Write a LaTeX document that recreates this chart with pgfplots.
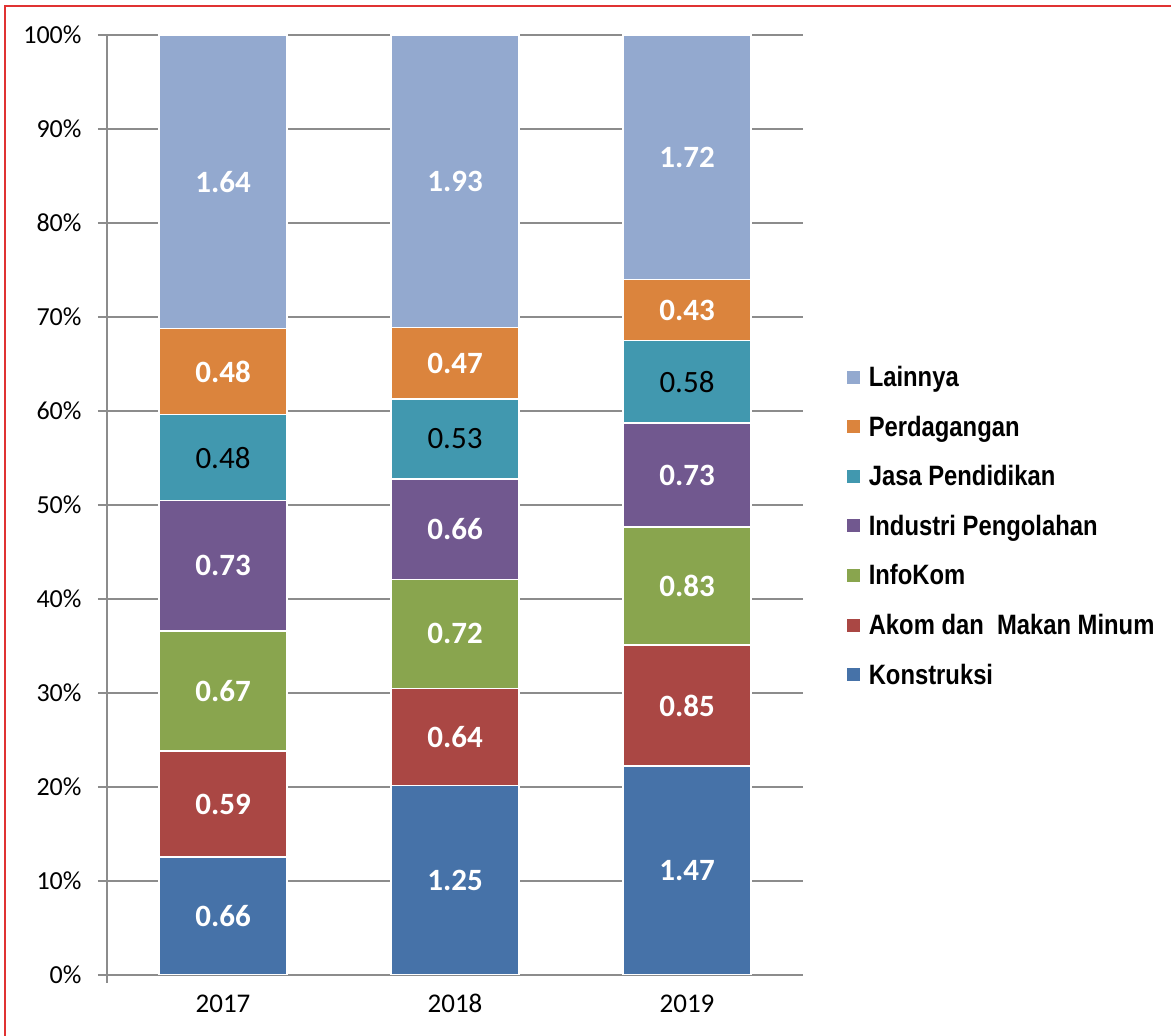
\documentclass[border=0pt]{standalone}
\usepackage{pgfplots}
\pgfplotsset{compat=1.18}
\usepackage{fontspec}
\setmainfont{Carlito}
\newfontfamily\legfont[FakeStretch=0.85]{Liberation Sans}

\definecolor{cKon}{HTML}{4672A8}
\definecolor{cAko}{HTML}{AA4744}
\definecolor{cInf}{HTML}{89A54E}
\definecolor{cInd}{HTML}{71588F}
\definecolor{cJas}{HTML}{4198AF}
\definecolor{cPer}{HTML}{DB843D}
\definecolor{cLai}{HTML}{93A9CF}
\definecolor{cGrid}{HTML}{8C8C8C}
\definecolor{cFrame}{HTML}{E03232}

\pgfplotstableread{
x y label
0 6.286 0.66
1 10.081 1.25
2 11.120 1.47
0 18.190 0.59
1 25.323 0.64
2 28.669 0.85
0 30.190 0.67
1 36.290 0.72
2 41.377 0.83
0 43.524 0.73
1 47.419 0.66
2 53.177 0.73
0 64.190 0.48
1 65.081 0.47
2 70.727 0.43
0 84.381 1.64
1 84.435 1.93
2 86.990 1.72
}\whitelabels

\pgfplotstableread{
x y label
0 55.048 0.48
1 57.016 0.53
2 63.087 0.58
}\blacklabels

\begin{document}
\begin{tikzpicture}
\useasboundingbox (0pt,0pt) rectangle (1171pt,1036pt);
\draw[cFrame, line width=2pt] (5pt,0pt) -- (5pt,1030pt) -- (1171pt,1030pt);

\begin{axis}[
  at={(107pt,61pt)}, anchor=south west,
  scale only axis, width=696pt, height=940pt,
  ybar stacked, bar width=128pt,
  xmin=-0.5, xmax=2.5, ymin=0, ymax=100,
  ytick={0,10,...,100},
  yticklabel={\pgfmathprintnumber{\tick}\%},
  xtick={0,1,2}, xticklabels={2017,2018,2019},
  xtick style={draw=none},
  ytick style={draw=cGrid, line width=1.5pt},
  major tick length=9pt, tick align=outside,
  ymajorgrids, grid style={cGrid, line width=1.5pt},
  axis x line*=bottom, axis y line*=left,
  axis line style={cGrid, line width=1.5pt, shorten <=-8pt},
  /pgf/number format/assume math mode=true,
  yticklabel style={font=\fontsize{26}{30}\selectfont, text=black, xshift=-13pt},
  xticklabel style={font=\fontsize{27}{32}\selectfont, text=black, yshift=-7pt},
  reverse legend,
  legend cell align=left,
  legend image code/.code={\path[#1,draw=none] (0pt,-6.5pt) rectangle (13pt,6.5pt); \path (19pt,0pt);},
  legend style={at={(rel axis cs:1.063,0.650)}, anchor=north west, draw=none, fill=none,
    font=\legfont\bfseries\fontsize{28}{33}\selectfont, row sep=23.8pt,
    inner sep=0pt},
]
\addplot[fill=cKon, draw=white, line width=1.5pt] coordinates {(0,12.571) (1,20.161) (2,22.239)};
\addplot[fill=cAko, draw=white, line width=1.5pt] coordinates {(0,11.238) (1,10.323) (2,12.859)};
\addplot[fill=cInf, draw=white, line width=1.5pt] coordinates {(0,12.762) (1,11.613) (2,12.557)};
\addplot[fill=cInd, draw=white, line width=1.5pt] coordinates {(0,13.905) (1,10.645) (2,11.044)};
\addplot[fill=cJas, draw=white, line width=1.5pt] coordinates {(0,9.143) (1,8.548) (2,8.775)};
\addplot[fill=cPer, draw=white, line width=1.5pt] coordinates {(0,9.143) (1,7.581) (2,6.505)};
\addplot[fill=cLai, draw=white, line width=1.5pt] coordinates {(0,31.238) (1,31.129) (2,26.021)};
\legend{Konstruksi, Akom dan\ \ Makan Minum, InfoKom, Industri Pengolahan, Jasa Pendidikan, Perdagangan, Lainnya}
\end{axis}

\begin{axis}[
  at={(107pt,61pt)}, anchor=south west,
  scale only axis, width=696pt, height=940pt,
  xmin=-0.5, xmax=2.5, ymin=0, ymax=100,
  hide axis,
]
\addplot[only marks, mark size=0pt, draw=none, nodes near coords, point meta=explicit symbolic,
  every node near coord/.append style={anchor=center, text=white, font=\bfseries\fontsize{31}{37}\selectfont}]
  table[x=x, y=y, meta=label] {\whitelabels};
\addplot[only marks, mark size=0pt, draw=none, nodes near coords, point meta=explicit symbolic,
  every node near coord/.append style={anchor=center, text=black, font=\fontsize{31}{37}\selectfont}]
  table[x=x, y=y, meta=label] {\blacklabels};
\end{axis}
\end{tikzpicture}
\end{document}
